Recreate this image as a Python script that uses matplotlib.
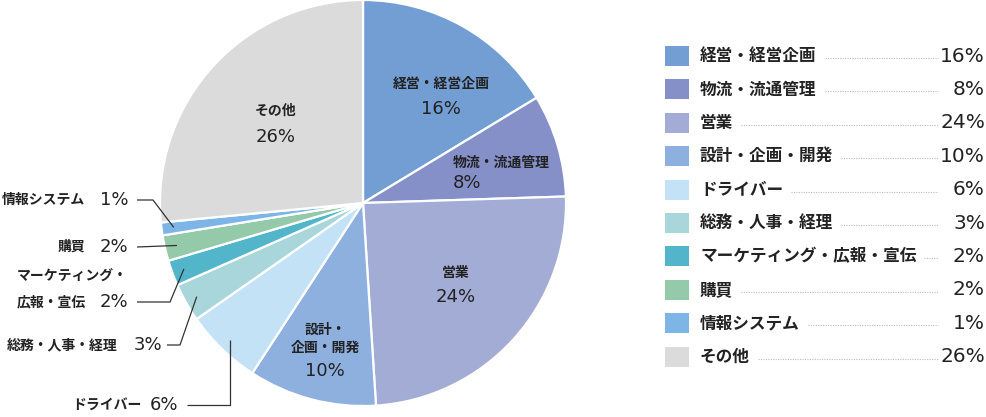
import numpy as np
import matplotlib
matplotlib.use('Agg')
import matplotlib.pyplot as plt
from matplotlib.patches import Rectangle

plt.rcParams['font.family'] = ['Noto Sans CJK JP', 'DejaVu Sans']

#============================================
# data
categories = ['経営・経営企画', '物流・流通管理', '営業', '設計・企画・開発', 'ドライバー',
              '総務・人事・経理', 'マーケティング・広報・宣伝', '購買', '情報システム', 'その他']
shares = [16, 8, 24, 10, 6, 3, 2, 2, 1, 26]
colors = ['#739ED3', '#8590C8', '#A3ACD5', '#8DB0DE', '#C4E2F6',
          '#A8D6DB', '#52B5C9', '#94C9AA', '#7CB5E6', '#DBDBDB']

# labels drawn inside the pie
inner_names = {0: '経営・経営企画', 1: '物流・流通管理', 2: '営業',
               3: '設計・\n企画・開発', 9: 'その他'}
# labels drawn outside with leader lines
outer_names = {8: '情報システム', 7: '購買', 6: 'マーケティング・\n広報・宣伝',
               5: '総務・人事・経理', 4: 'ドライバー'}

TXT = '#222222'
NUMFONT = ['DejaVu Sans']
W, H = 986, 417
CX, CY, R = 363, 203, 203

fig = plt.figure(figsize=(W / 100, H / 100), dpi=100)
axp = fig.add_axes([(CX - R) / W, (H - CY - R) / H, 2 * R / W, 2 * R / H])
wedges, _ = axp.pie(shares, colors=colors, startangle=90, counterclock=False,
                    wedgeprops=dict(edgecolor='white', linewidth=1.6))
axp.set_xlim(-1, 1)
axp.set_ylim(-1, 1)
axp.set_aspect('equal')
axp.axis('off')

# overlay in pixel coordinates
ax = fig.add_axes([0, 0, 1, 1])
ax.set_xlim(0, W)
ax.set_ylim(H, 0)
ax.axis('off')


def wedge_point(i, r):
    w = wedges[i]
    th = np.deg2rad((w.theta1 + w.theta2) / 2)
    return CX + R * r * np.cos(th), CY - R * r * np.sin(th)


#------------------------------------------------
# inner labels (x, y of name, y of pct, alignment)
inner_layout = {0: (441, 84, 109, 'center'), 1: (453, 163, 183, 'left'),
                2: (456, 273, 297, 'center'), 3: (325, 330, 371, 'center'),
                9: (276, 111, 137, 'center')}
for i, (x, yn, yp, ha) in inner_layout.items():
    lines = inner_names[i].split('\n')
    for j, ln in enumerate(lines):
        ax.text(x, yn + 18 * j, ln, ha=ha, va='center', fontsize=10,
                color=TXT, weight='bold')
    ax.text(x, yp, f'{shares[i]}%', ha=ha, va='center', fontsize=13,
            color=TXT, family=NUMFONT)

#------------------------------------------------
# outer labels with leader lines
# (pct right x, name right x, y, line start x, elbow x)
outer_layout = {8: (128, 85, 200, 137, 153), 7: (128, 85, 247, 137, None),
                6: (128, None, 302, 137, 170), 5: (162, 118, 345, 167, 180),
                4: (178, 142, 405, 187, 'v')}
for i, (xr, xn, y, xs, xe) in outer_layout.items():
    ax.text(xr, y, f'{shares[i]}%', ha='right', va='center', fontsize=13,
            color=TXT, family=NUMFONT)
    name = outer_names[i]
    if xn is None:
        l1, l2 = name.split('\n')
        ax.text(17, y - 25, l1, ha='left', va='center', fontsize=10, color=TXT, weight='bold')
        ax.text(17, y, l2, ha='left', va='center', fontsize=10, color=TXT, weight='bold')
    else:
        ax.text(xn, y, name, ha='right', va='center', fontsize=10, color=TXT, weight='bold')
    ex, ey = wedge_point(i, 0.94)
    if xe is None:
        xs_, ys_ = [xs, ex], [y, ey]
    elif xe == 'v':
        xs_, ys_ = [xs, ex, ex], [y, y, ey]
    else:
        xs_, ys_ = [xs, xe, ex], [y, y, ey]
    ax.plot(xs_, ys_, color='#333333', lw=0.9, solid_capstyle='butt')

#------------------------------------------------
# legend
fig.canvas.draw()
renderer = fig.canvas.get_renderer()
inv = ax.transData.inverted()
for k, (cat, val, col) in enumerate(zip(categories, shares, colors)):
    y = 56 + k * 33.4
    ax.add_patch(Rectangle((665, y - 10), 24, 20, facecolor=col, edgecolor='none'))
    t = ax.text(700, y, cat, ha='left', va='center', fontsize=12, color=TXT, weight='bold')
    ax.text(985, y, f'{val}%', ha='right', va='center', fontsize=14.5,
            color=TXT, family=NUMFONT)
    bb = t.get_window_extent(renderer)
    x_end = inv.transform((bb.x1, bb.y0))[0]
    ax.plot([x_end + 8, 938], [y + 2, y + 2], color='#BBBBBB', lw=0.8, ls=(0, (1, 1.2)))

fig.savefig('out.png', dpi=100)
